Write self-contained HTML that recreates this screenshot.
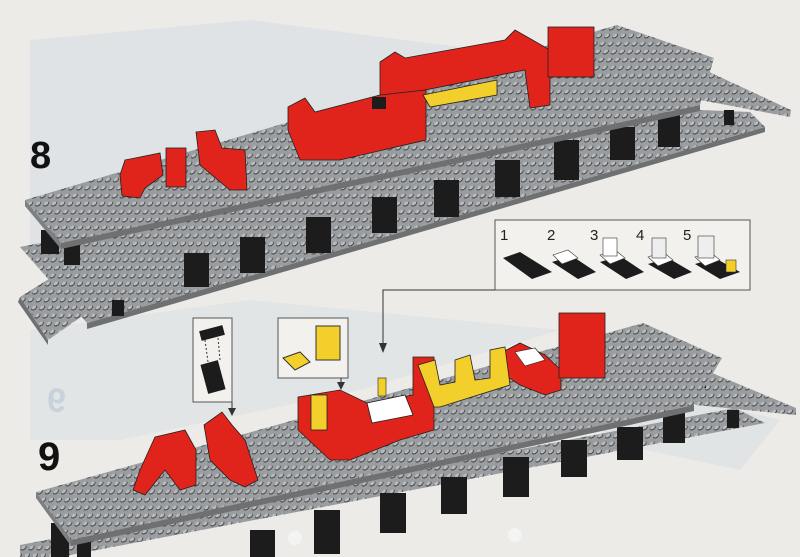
<!DOCTYPE html>
<html><head><meta charset="utf-8"><style>
html,body{margin:0;padding:0;background:#ecebe8;}
svg{display:block}
text{font-family:"Liberation Sans",sans-serif;}
</style></head><body>
<svg width="800" height="557" viewBox="0 0 800 557" xmlns="http://www.w3.org/2000/svg">
<defs>
<pattern id="studs" width="8" height="8" patternUnits="userSpaceOnUse" patternTransform="skewX(-30)">
<rect width="8" height="8" fill="#9a9da0"/>
<circle cx="4" cy="4" r="2.5" fill="#3a3c3e"/>
<circle cx="3.5" cy="3.5" r="2" fill="#b9bbbd"/>
</pattern>
</defs>
<rect width="800" height="557" fill="#ecebe8"/>
<!-- faint shadows -->
<polygon points="30,40 250,20 560,60 380,160 120,230 30,260" fill="#d6dde2" opacity="0.55"/>
<polygon points="30,330 250,300 560,330 360,390 120,440 30,440" fill="#d6dde2" opacity="0.45"/>
<polygon points="620,380 780,420 740,470 600,440" fill="#d6dde2" opacity="0.5"/>

<!-- STEP 8 lower plate & ramps -->
<polygon points="20,247 700,110 750,112 765,127 87,323" fill="url(#studs)"/>
<polygon points="87,323 765,127 765,132 87,329" fill="#6e7072"/>
<polygon points="20,297 140,222 185,245 48,340" fill="url(#studs)"/>
<polygon points="20,297 48,340 48,345 18,302" fill="#6e7072"/>
<polygon points="665,78 705,70 791,110 790,117 700,100" fill="url(#studs)"/>
<g fill="#1c1c1c">
<rect x="41" y="230" width="18" height="24"/><rect x="64" y="243" width="16" height="22"/>
<rect x="184" y="253" width="25" height="34"/><rect x="240" y="237" width="25" height="36"/>
<rect x="306" y="217" width="25" height="36"/><rect x="372" y="197" width="25" height="36"/>
<rect x="434" y="180" width="25" height="37"/><rect x="495" y="160" width="25" height="37"/>
<rect x="554" y="140" width="25" height="40"/><rect x="610" y="127" width="25" height="33"/>
<rect x="658" y="112" width="22" height="35"/><rect x="690" y="65" width="10" height="22"/>
<rect x="724" y="110" width="10" height="15"/><rect x="112" y="300" width="12" height="16"/>
</g>
<!-- STEP 8 upper plate -->
<polygon points="25,200 617,25 714,58 700,105 61,243" fill="url(#studs)"/>
<polygon points="25,200 61,243 61,249 25,206" fill="#7d8083"/>
<polygon points="61,243 700,105 700,111 61,249" fill="#6e7072"/>
<!-- red step 8 -->
<g fill="#e0241b" stroke="#222" stroke-width="0.8">
<polygon points="380,62 395,52 405,58 505,40 515,30 550,50 550,105 530,108 525,70 415,92 410,105 380,110"/>
<polygon points="288,107 305,98 315,112 380,95 426,90 426,140 340,160 300,160 288,130"/>
<rect x="548" y="27" width="46" height="50"/>
<polygon points="196,132 215,130 222,148 245,150 247,190 230,190 200,165"/>
<rect x="166" y="148" width="20" height="39"/>
<polygon points="125,160 160,153 163,175 145,188 140,198 122,196 120,175"/>
</g>
<rect x="372" y="97" width="14" height="12" fill="#1c1c1c"/>
<polygon points="423,95 497,80 497,95 430,107" fill="#f2cf2a" stroke="#222" stroke-width="0.8"/>
<text x="30" y="168" font-size="38" font-weight="bold" fill="#111">8</text>

<!-- inset -->
<rect x="495" y="220" width="255" height="70" fill="#f2f1ee" stroke="#555" stroke-width="1"/>
<g font-size="15" fill="#222">
<text x="500" y="240">1</text><text x="547" y="240">2</text><text x="590" y="240">3</text><text x="636" y="240">4</text><text x="683" y="240">5</text>
</g>
<g fill="#1c1c1c">
<polygon points="503,258 520,252 552,272 532,279"/>
<polygon points="552,262 572,256 596,272 578,279"/>
<polygon points="600,262 620,256 644,272 626,279"/>
<polygon points="648,264 668,258 692,272 674,279"/>
<polygon points="695,264 715,258 740,272 720,279"/>
</g>
<polygon points="553,255 568,250 578,258 562,264" fill="#fff" stroke="#333" stroke-width="0.6"/>
<polygon points="600,255 615,250 625,258 610,264" fill="#fff" stroke="#333" stroke-width="0.6"/>
<rect x="603" y="238" width="14" height="18" fill="#fff" stroke="#333" stroke-width="0.6"/>
<polygon points="648,257 663,252 673,260 658,266" fill="#fff" stroke="#333" stroke-width="0.6"/>
<rect x="652" y="238" width="14" height="20" fill="#eee" stroke="#333" stroke-width="0.6"/>
<polygon points="695,257 710,252 720,260 705,266" fill="#fff" stroke="#333" stroke-width="0.6"/>
<rect x="698" y="236" width="16" height="22" fill="#eee" stroke="#333" stroke-width="0.6"/>
<rect x="726" y="260" width="10" height="12" fill="#f2cf2a" stroke="#333" stroke-width="0.6"/>
<polyline points="495,290 383,290 383,345" fill="none" stroke="#333" stroke-width="1"/>
<polygon points="379,343 387,343 383,353" fill="#333"/>

<!-- STEP 9 lower plate & ramp -->
<polygon points="20,545 735,408 765,423 60,557 20,557" fill="url(#studs)"/>
<polygon points="668,373 700,368 796,408 796,415 696,405" fill="url(#studs)"/>
<g fill="#1c1c1c">
<rect x="51" y="523" width="18" height="34"/><rect x="77" y="537" width="14" height="20"/>
<rect x="250" y="530" width="25" height="27"/><rect x="314" y="510" width="26" height="44"/>
<rect x="380" y="493" width="26" height="40"/><rect x="441" y="477" width="26" height="37"/>
<rect x="503" y="457" width="26" height="40"/><rect x="561" y="440" width="26" height="37"/>
<rect x="617" y="427" width="26" height="33"/><rect x="663" y="410" width="22" height="33"/>
<rect x="727" y="410" width="12" height="18"/><rect x="696" y="368" width="10" height="20"/>
</g>
<!-- STEP 9 upper plate -->
<polygon points="36,492 643,323 722,358 694,405 71,540" fill="url(#studs)"/>
<polygon points="36,492 71,540 71,546 36,498" fill="#7d8083"/>
<polygon points="71,540 694,405 694,411 71,546" fill="#6e7072"/>
<circle cx="295" cy="538" r="7" fill="#f4f4f2"/>
<circle cx="515" cy="535" r="7" fill="#f4f4f2"/>
<!-- red step 9 -->
<g fill="#e0241b" stroke="#222" stroke-width="0.8">
<polygon points="298,397 340,390 367,403 413,395 413,357 434,357 434,430 400,440 350,460 330,460 298,430"/>
<polygon points="497,355 520,343 545,355 561,370 561,390 545,395 520,385 497,370"/>
<rect x="559" y="313" width="46" height="65"/>
<polygon points="204,425 222,412 232,425 245,440 258,480 245,487 230,480 210,460"/>
<polygon points="155,437 185,430 196,450 196,485 180,490 165,470 145,495 133,490 140,470"/>
</g>
<rect x="311" y="395" width="16" height="35" fill="#f2cf2a" stroke="#222" stroke-width="0.8"/>
<polygon points="367,403 405,395 413,415 372,423" fill="#fff" stroke="#222" stroke-width="0.8"/>
<polygon points="515,352 535,348 545,360 525,366" fill="#fff" stroke="#222" stroke-width="0.6"/>
<g fill="#f2cf2a" stroke="#222" stroke-width="0.8">
<polygon points="418,365 435,360 440,385 455,382 455,360 470,355 475,380 490,378 490,350 505,347 510,385 440,407 434,407"/>
</g>
<rect x="378" y="378" width="8" height="18" fill="#f2cf2a" stroke="#222" stroke-width="0.6"/>
<text x="38" y="470" font-size="40" font-weight="bold" fill="#111">9</text>
<text x="-66" y="412" font-size="34" font-weight="bold" fill="#c8d2da" transform="scale(-1,1)">9</text>

<!-- small insets step 9 -->
<rect x="193" y="318" width="39" height="84" fill="#f2f1ee" stroke="#555"/>
<rect x="200" y="328" width="24" height="10" fill="#1c1c1c" transform="rotate(-15 212 333)"/>
<rect x="204" y="362" width="18" height="30" fill="#1c1c1c" transform="rotate(-15 213 377)"/>
<line x1="205" y1="340" x2="208" y2="362" stroke="#333" stroke-dasharray="2,2"/>
<line x1="218" y1="338" x2="220" y2="360" stroke="#333" stroke-dasharray="2,2"/>
<polyline points="232,402 232,410" fill="none" stroke="#333"/>
<polygon points="228,408 236,408 232,416" fill="#333"/>
<rect x="278" y="318" width="70" height="60" fill="#f2f1ee" stroke="#555"/>
<polygon points="283,358 300,352 310,362 295,370" fill="#f2cf2a" stroke="#333"/>
<rect x="316" y="326" width="24" height="34" fill="#f2cf2a" stroke="#333"/>
<polyline points="341,378 341,384" fill="none" stroke="#333"/>
<polygon points="337,382 345,382 341,390" fill="#333"/>
</svg>
</body></html>
